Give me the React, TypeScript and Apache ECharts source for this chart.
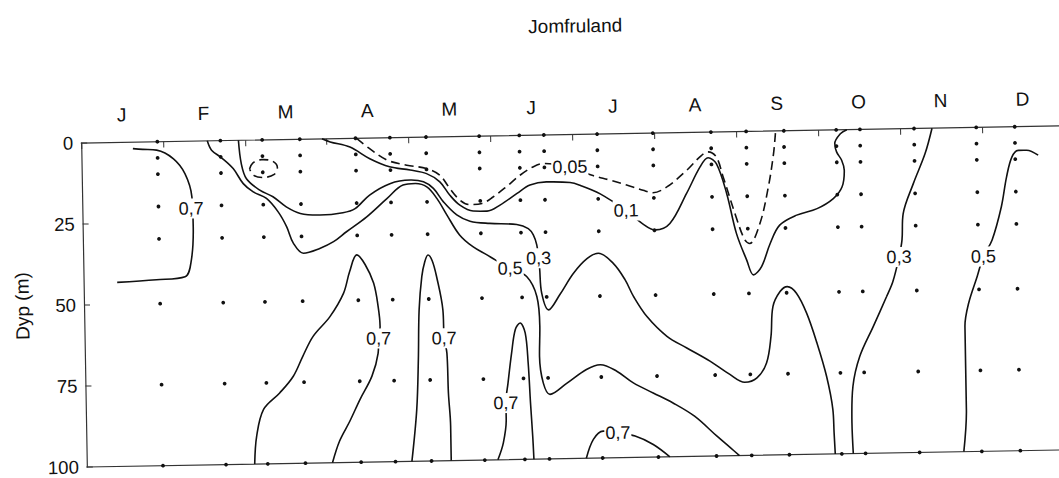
import React, { useEffect, useRef } from "react";
import * as echarts from "echarts";

// Top axis: month initials (one per month, Jan..Dec)
const MONTHS = ["J", "F", "M", "A", "M", "J", "J", "A", "S", "O", "N", "D"];
// Depth axis ticks (m)
const DEPTH_TICKS = [0, 25, 50, 75, 100];
// Sampling stations (time in months from 1 Jan) and sampled depths (m)
const STATION_TIMES = [0.93, 1.7, 2.21, 2.67, 3.35, 3.77, 4.21, 4.86, 5.35, 5.65, 6.3, 6.98, 7.69, 8.12, 8.58, 9.22, 9.51, 10.17, 10.93, 11.4];
const SAMPLE_DEPTHS = [0, 5, 10, 20, 30, 50, 75, 100];

// Isolines [time (months), depth (m)]
const ISO_07_WINTER = [[0.63, 2], [0.75, 2.3], [0.92, 2.6], [1.12, 5.3], [1.26, 10], [1.34, 17.2], [1.35, 26.4], [1.32, 36.7], [1.24, 41.8], [0.89, 42.6], [0.41, 43.2]];
const ISO_05_MAIN = [[1.54, 0], [1.59, 2.9], [1.71, 5.3], [1.85, 8.7], [1.97, 13.4], [2.09, 16], [2.25, 18.1], [2.39, 22.3], [2.49, 26.9], [2.57, 32.1], [2.69, 35.2], [2.89, 33.8], [3.06, 31.8], [3.22, 28.8], [3.47, 24.3], [3.72, 18.8], [3.92, 14.7], [4.07, 14.3], [4.21, 15.4], [4.33, 19], [4.45, 24.2], [4.6, 30.4], [4.76, 34.1], [4.93, 36.7], [5.03, 38.3], [5.21, 41], [5.41, 43.6], [5.53, 49.8], [5.56, 59.1], [5.55, 68.3], [5.59, 76.5], [5.67, 80.1], [5.88, 76.7], [6.12, 72.6], [6.29, 71.2], [6.49, 73.3], [6.69, 77], [6.93, 80.2], [7.17, 83.4], [7.43, 87.6], [7.7, 93.9], [7.86, 97.5], [7.97, 100]];
const ISO_03_MAIN = [[1.92, 0], [1.95, 7.2], [2.01, 11.9], [2.17, 15.5], [2.33, 17.6], [2.49, 20.8], [2.66, 22.9], [2.9, 23.5], [3.18, 22.9], [3.33, 21.7], [3.51, 17.6], [3.76, 14.2], [4.01, 13.2], [4.17, 13.8], [4.29, 15.9], [4.41, 20.1], [4.57, 24.2], [4.73, 26.2], [4.97, 27], [5.3, 27.5], [5.44, 28.8], [5.5, 30.8], [5.54, 33.9], [5.56, 38], [5.57, 41.2], [5.59, 48.8], [5.67, 54], [5.81, 49.4], [5.98, 42.9], [6.15, 38.4], [6.29, 36.8], [6.47, 40], [6.61, 45.1], [6.71, 50.3], [6.87, 56.6], [7.11, 62.8], [7.35, 66.5], [7.63, 70.7], [7.87, 74.9], [8.05, 77.4], [8.2, 76.1], [8.32, 71.6], [8.38, 63.4], [8.41, 54.2], [8.5, 49.6], [8.59, 48.1], [8.7, 50.2], [8.82, 56.4], [8.94, 65.7], [9.05, 76], [9.12, 86.3], [9.13, 93.5], [9.14, 100]];
const ISO_01 = [[2.94, 0], [3.04, 1], [3.28, 2.7], [3.52, 6.4], [3.76, 9], [4.01, 10.1], [4.21, 11.3], [4.37, 13.9], [4.49, 18.1], [4.61, 21.2], [4.77, 23.1], [4.94, 23.2], [5.1, 21.4], [5.31, 17.9], [5.47, 15.4], [5.67, 14.5], [5.96, 14.8], [6.08, 15.7], [6.32, 18.4], [6.64, 23.8], [6.83, 27.8], [6.99, 29.9], [7.17, 28], [7.38, 18.8], [7.55, 10.7], [7.65, 7.9], [7.75, 9.8], [7.87, 19.1], [7.98, 31.4], [8.1, 39.7], [8.18, 44.3], [8.28, 41.8], [8.39, 34.7], [8.51, 29.1], [8.72, 26.1], [8.97, 24.2], [9.17, 21.2], [9.28, 17.6], [9.31, 12.5], [9.28, 9.4], [9.22, 6.8], [9.2, 4.2], [9.27, 1.2], [9.35, 0]];
const ISO_005 = [[3.36, 0], [3.52, 3.3], [3.73, 6.9], [3.97, 8.6], [4.21, 9.7], [4.37, 11.8], [4.49, 16], [4.61, 19.6], [4.73, 21.1], [4.88, 20.8], [5.02, 18.8], [5.18, 15.8], [5.35, 12.3], [5.51, 9.8], [5.64, 8.8], [5.96, 10], [6.23, 12.7], [6.45, 14.3], [6.65, 15.9], [6.85, 17.6], [6.97, 18.4], [7.14, 16.7], [7.39, 11.6], [7.55, 7.6], [7.65, 6.1], [7.75, 7.7], [7.83, 13.9], [7.99, 27.2], [8.08, 33.4], [8.14, 34.6], [8.27, 28.4], [8.38, 17.2], [8.45, 7], [8.48, 0]];
const ISO_005_PATCH = [[2.05, 8.9], [2.09, 7.1], [2.2, 6.1], [2.33, 6.6], [2.39, 8.6], [2.35, 10.7], [2.22, 11.6], [2.1, 10.9], [2.05, 8.9]];
const ISO_07_APR = [[2.05, 100], [2.08, 91.4], [2.17, 83.2], [2.37, 78.2], [2.54, 73.1], [2.66, 67], [2.79, 60.9], [3, 54.9], [3.17, 47.8], [3.25, 41.1], [3.34, 36], [3.44, 39], [3.54, 44.8], [3.59, 52], [3.61, 58.2], [3.59, 61.9], [3.58, 66.5], [3.5, 73.5], [3.35, 80.6], [3.22, 87.3], [3.09, 93.4], [3, 100]];
const ISO_07_MAY = [[3.97, 100], [4.04, 84], [4.07, 68.7], [4.09, 53.3], [4.13, 43], [4.17, 38.4], [4.21, 36.4], [4.26, 38.2], [4.31, 43.1], [4.38, 53.4], [4.39, 62.2], [4.42, 66.8], [4.43, 79.1], [4.45, 89.4], [4.45, 100]];
const ISO_07_JUN = [[5.02, 100], [5.09, 94.8], [5.13, 87.6], [5.13, 82.5], [5.16, 76.3], [5.21, 67.1], [5.26, 59.9], [5.32, 57.9], [5.38, 61], [5.41, 70.3], [5.43, 82.6], [5.45, 92.9], [5.46, 100]];
const ISO_07_JUL = [[6.1, 100], [6.19, 94.2], [6.31, 91.7], [6.49, 92.3], [6.7, 93.4], [6.92, 96.1], [7.12, 100]];
const ISO_03_AUTUMN = [[9.36, 100], [9.35, 90.5], [9.37, 79.2], [9.46, 70], [9.63, 60.9], [9.8, 51.7], [9.88, 47.1], [9.96, 39.6], [10, 34.3], [10.02, 26.2], [10.15, 17], [10.3, 7.8], [10.39, 0]];
const ISO_05_WINTER = [[10.71, 100], [10.75, 87], [10.75, 61.4], [10.8, 54.2], [10.91, 46], [10.99, 39.9], [11.1, 34.8], [11.22, 24.6], [11.29, 15.4], [11.36, 9.3], [11.44, 7.3], [11.54, 7.3], [11.68, 8.9]];

// Isoline labels [time, depth, text]
const ISO_LABELS: [number, number, string][] = [
  [1.33, 20.8, "0,7"], [3.59, 61.9, "0,7"], [4.39, 62.2, "0,7"], [5.13, 82.5, "0,7"], [6.49, 92.3, "0,7"],
  [5.21, 41, "0,5"], [5.56, 38, "0,3"], [6.64, 23.8, "0,1"], [5.96, 10, "0,05"],
  [9.96, 39.6, "0,3"], [10.99, 39.9, "0,5"],
];

const SOLID = [ISO_07_WINTER, ISO_05_MAIN, ISO_03_MAIN, ISO_01, ISO_07_APR, ISO_07_MAY, ISO_07_JUN, ISO_07_JUL, ISO_03_AUTUMN, ISO_05_WINTER];
const DASHED = [ISO_005, ISO_005_PATCH];

const FONT = "'Liberation Sans', Arial, Helvetica, sans-serif";
const INK = "#111";

export default function App() {
  const ref = useRef<HTMLDivElement>(null);
  useEffect(() => {
    if (!ref.current) return;
    const chart = echarts.init(ref.current, null, { renderer: "svg" });
    const stations: number[][] = [];
    STATION_TIMES.forEach((t) => SAMPLE_DEPTHS.forEach((d) => stations.push([t, d])));
    const lineSeries = [
      ...SOLID.map((data) => ({ data, dashed: false })),
      ...DASHED.map((data) => ({ data, dashed: true })),
    ].map((s) => ({
      type: "line",
      data: s.data,
      smooth: 0.35,
      showSymbol: false,
      symbol: "none",
      silent: true,
      z: 3,
      lineStyle: { color: INK, width: 1.6, type: s.dashed ? [9, 5] : "solid" },
    }));
    chart.setOption({
      animation: false,
      backgroundColor: "transparent",
      textStyle: { fontFamily: FONT },
      graphic: [
        {
          type: "text",
          x: 580,
          y: 26,
          style: { text: "Jomfruland", fontSize: 19, fontFamily: FONT, fill: INK, align: "center", verticalAlign: "middle" },
        },
      ],
      grid: { left: 84, top: 134.5, width: 982.8, height: 324 },
      xAxis: [
        {
          type: "value",
          min: 0,
          max: 12,
          position: "bottom",
          axisLine: { show: true, onZero: false, lineStyle: { color: "#333", width: 1.2 } },
          axisTick: { show: false },
          axisLabel: { show: false },
          splitLine: { show: false },
        },
        {
          type: "category",
          position: "top",
          data: MONTHS.map((m, i) => m + "_" + i),
          boundaryGap: true,
          axisLine: { show: true, lineStyle: { color: "#333", width: 1.2 } },
          axisTick: { show: true, inside: true, length: 6, lineStyle: { color: "#333" } },
          axisLabel: { margin: 18, fontSize: 19, color: INK, fontFamily: FONT, formatter: (v: string) => v.split("_")[0] },
          splitLine: { show: false },
        },
      ],
      yAxis: {
        type: "value",
        inverse: true,
        min: DEPTH_TICKS[0],
        max: DEPTH_TICKS[DEPTH_TICKS.length - 1],
        interval: 25,
        name: "Dyp (m)",
        nameLocation: "middle",
        nameRotate: 90,
        nameGap: 52,
        nameTextStyle: { fontSize: 19, color: INK, fontFamily: FONT },
        axisLine: { show: true, onZero: false, lineStyle: { color: "#333", width: 1.2 } },
        axisTick: { show: true, inside: true, length: 6, lineStyle: { color: "#333" } },
        axisLabel: { margin: 8, fontSize: 18.5, lineHeight: 14, color: INK, fontFamily: FONT },
        splitLine: { show: false },
      },
      series: [
        ...lineSeries,
        {
          type: "scatter",
          data: stations,
          symbol: "circle",
          symbolSize: 3.8,
          itemStyle: { color: "#111", opacity: 1 },
          silent: true,
          z: 2,
        },
        {
          type: "scatter",
          data: ISO_LABELS.map(([t, d, txt]) => ({ value: [t, d], name: txt })),
          symbolSize: 0,
          silent: true,
          z: 6,
          itemStyle: { opacity: 1 },
          label: {
            show: true,
            position: "inside",
            formatter: (p: any) => p.name,
            fontSize: 18,
            fontFamily: FONT,
            color: INK,
            opacity: 1,
            backgroundColor: "#fff",
            padding: [1, 1],
          },
        },
      ],
    });
    return () => chart.dispose();
  }, []);
  return (
    <div style={{ position: "fixed", left: 0, top: 0, width: 1059, height: 478, overflow: "hidden", background: "#fff" }}>
      <div
        ref={ref}
        style={{
          position: "absolute",
          left: 0,
          top: 0,
          width: 1080,
          height: 478,
          transform: "rotate(-1deg)",
          transformOrigin: "572px 300px",
        }}
      />
    </div>
  );
}
